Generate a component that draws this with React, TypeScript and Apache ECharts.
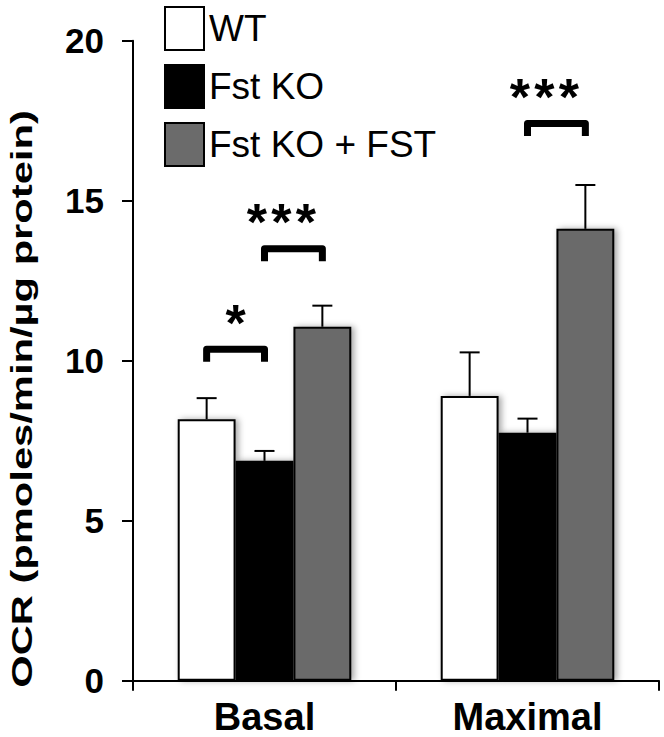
import React, { useEffect, useRef } from 'react';
import * as echarts from 'echarts';

const categories = ['Basal', 'Maximal'];
const groupNames = ['WT', 'Fst KO', 'Fst KO + FST'];
const wtMean = [8.17, 8.9];
const wtSem = [0.66, 1.36];
const koMean = [6.87, 7.75];
const koSem = [0.31, 0.44];
const fstMean = [11.06, 14.12];
const fstSem = [0.66, 1.37];
const yMin = 0;
const yMax = 20;
const yInterval = 5;
const sigCategory = [0, 0, 1];
const sigFrom = [0, 1, 1];
const sigTo = [1, 2, 2];
const sigHeight = [10.36, 13.5, 17.41];
const sigLabel = ['*', '***', '***'];

const FONT = "'Liberation Sans', Arial, Helvetica, sans-serif";
const GAP = 0.34;
const colors = ['#ffffff', '#000000', '#6b6b6b'];

export default function App() {
  const ref = useRef<HTMLDivElement>(null);
  useEffect(() => {
    if (!ref.current) return;
    const chart = echarts.init(ref.current, null, { renderer: 'svg' });
    const means = [wtMean, koMean, fstMean];
    const sems = [wtSem, koSem, fstSem];
    const errData: number[][] = [];
    means.forEach((m, s) => m.forEach((v, c) => errData.push([c, s, v, sems[s][c]])));
    const sigData = sigCategory.map((c, i) => [c, sigFrom[i], sigTo[i], sigHeight[i]]);

    const barSeries = groupNames.map((name, i) => ({
      name,
      type: 'bar',
      data: means[i],
      barGap: '0%',
      barCategoryGap: GAP * 100 + '%',
      itemStyle: {
        color: colors[i],
        borderColor: '#000',
        borderWidth: 2,
        shadowColor: 'rgba(0,0,0,0.35)',
        shadowBlur: 6,
        shadowOffsetX: 3,
      },
      z: 2,
    }));

    const option: any = {
      animation: false,
      backgroundColor: '#fff',
      grid: { left: 133, right: 5, top: 40.7, bottom: 56.3 },
      legend: {
        orient: 'vertical',
        left: 164,
        top: 6,
        padding: 0,
        itemWidth: 39,
        itemHeight: 43,
        itemGap: 13,
        icon: 'rect',
        textStyle: { fontFamily: FONT, fontSize: 37, color: '#000' },
        data: groupNames.map((n, i) => ({
          name: n,
          itemStyle: { color: colors[i], borderColor: '#000', borderWidth: 2, shadowBlur: 0 },
        })),
      },
      xAxis: {
        type: 'category',
        data: categories,
        axisLine: { lineStyle: { color: '#000', width: 2 } },
        axisTick: { show: true, length: 10, lineStyle: { color: '#000', width: 2 } },
        axisLabel: { fontFamily: FONT, fontSize: 38, fontWeight: 'bold', color: '#000', margin: 17 },
      },
      yAxis: {
        type: 'value',
        min: yMin,
        max: yMax,
        interval: yInterval,
        splitLine: { show: false },
        axisLine: { show: true, lineStyle: { color: '#000', width: 2 } },
        axisTick: { show: true, length: 11, lineStyle: { color: '#000', width: 2 } },
        axisLabel: { fontFamily: FONT, fontSize: 35, fontWeight: 'bold', color: '#000', margin: 29 },
      },
      graphic: [
        {
          type: 'text',
          x: 22,
          y: 399,
          rotation: Math.PI / 2,
          scaleX: 1.39,
          style: {
            text: 'OCR (pmoles/min/\u00b5g protein)',
            font: `bold 30px ${FONT}`,
            fill: '#000',
            textAlign: 'center',
            textVerticalAlign: 'middle',
          },
        },
      ],
      series: [
        ...barSeries,
        {
          type: 'custom',
          name: 'err',
          data: errData,
          encode: { x: 0, y: 2 },
          z: 3,
          renderItem: (params: any, api: any) => {
            const cat = api.value(0);
            const s = api.value(1);
            const mean = api.value(2);
            const err = api.value(3);
            const band = api.size([1, 0])[0];
            const bw = (band * (1 - GAP)) / 3;
            const base = api.coord([cat, mean]);
            const top = api.coord([cat, mean + err]);
            const x = base[0] + (s - 1) * bw;
            return {
              type: 'group',
              children: [
                { type: 'line', shape: { x1: x, y1: base[1], x2: x, y2: top[1] }, style: { stroke: '#000', lineWidth: 2 } },
                { type: 'line', shape: { x1: x - 10, y1: top[1], x2: x + 10, y2: top[1] }, style: { stroke: '#000', lineWidth: 2 } },
              ],
            };
          },
        },
        {
          type: 'custom',
          name: 'sig',
          data: sigData,
          encode: { x: 0, y: 3 },
          z: 3,
          renderItem: (params: any, api: any) => {
            const cat = api.value(0);
            const from = api.value(1);
            const to = api.value(2);
            const h = api.value(3);
            const band = api.size([1, 0])[0];
            const bw = (band * (1 - GAP)) / 3;
            const p = api.coord([cat, h]);
            const x1 = p[0] + (from - 1) * bw;
            const x2 = p[0] + (to - 1) * bw;
            const y = p[1];
            const label = sigLabel[params.dataIndex];
            const n = label.length;
            const spacing = 24.5;
            const mid = (x1 + x2) / 2 + (n > 1 ? -12 : 0);
            const stars = [];
            for (let k = 0; k < n; k++) {
              stars.push({
                type: 'text',
                style: {
                  text: '*',
                  x: mid + (k - (n - 1) / 2) * spacing,
                  y: y - 3.5 - 31 + 8,
                  font: `bold 52px ${FONT}`,
                  fill: '#000',
                  textAlign: 'center',
                  textVerticalAlign: 'middle',
                },
              });
            }
            return {
              type: 'group',
              children: [
                {
                  type: 'polyline',
                  shape: { points: [[x1, y + 12.5], [x1, y], [x2, y], [x2, y + 12.5]] },
                  style: { stroke: '#000', lineWidth: 7, fill: 'none', lineJoin: 'round' },
                },
                ...stars,
              ],
            };
          },
        },
      ],
    };
    chart.setOption(option);
    return () => chart.dispose();
  }, []);
  return <div ref={ref} style={{ position: 'fixed', left: 0, top: 0, width: 664, height: 737 }} />;
}
